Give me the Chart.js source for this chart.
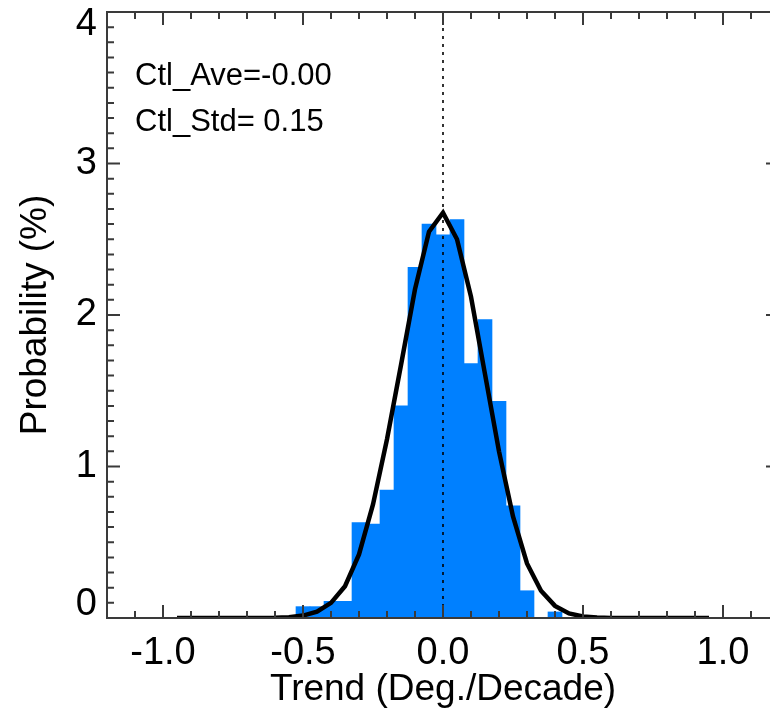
<!DOCTYPE html>
<html><head><meta charset="utf-8">
<script src="https://cdn.jsdelivr.net/npm/chart.js@4/dist/chart.umd.min.js"></script>
<style>
html,body{margin:0;padding:0;overflow:hidden;background:#fff;width:770px;height:718px}
#wrap{position:absolute;left:0;top:0;width:800px;height:718px}
</style>
</head><body><div id="wrap"><canvas id="c" width="800" height="718"></canvas></div>
<script>
// Histogram bins (bin centres, Deg./Decade) and probability (%)
const binCenters = [-0.50,-0.45,-0.40,-0.35,-0.30,-0.25,-0.20,-0.15,-0.10,-0.05,0.00,0.05,0.10,0.15,0.20,0.25,0.30,0.35,0.40];
const binProb    = [0.075,0.075,0.11,0.11,0.63,0.62,0.845,1.40,2.315,2.60,2.53,2.63,1.68,1.97,1.43,0.74,0.18,0.0,0.04];
// Fitted curve
const curveX = [-0.95,-0.90,-0.85,-0.80,-0.75,-0.70,-0.65,-0.60,-0.55,-0.50,-0.45,-0.40,-0.35,-0.30,-0.25,-0.20,-0.15,-0.10,-0.05,0.00,
                 0.05,0.10,0.15,0.20,0.25,0.30,0.35,0.40,0.45,0.50,0.55,0.60,0.65,0.70,0.75,0.80,0.85,0.90,0.95];
const curveY = [0,0,0,0,0,0,0,0.001,0.005,0.016,0.042,0.10,0.21,0.42,0.75,1.18,1.67,2.17,2.55,2.675,
                 2.50,2.12,1.61,1.10,0.67,0.36,0.18,0.08,0.03,0.01,0.003,0,0,0,0,0,0,0,0];
// Axes
const xTickValues = [-1.0,-0.5,0.0,0.5,1.0];
const yTickValues = [0,1,2,3,4];
const xRange = [-1.2, 1.2];
const yRange = [0, 4];
const xTitle = 'Trend (Deg./Decade)';
const yTitle = 'Probability (%)';
const statLabels = ['Ctl_Ave=-0.00', 'Ctl_Std= 0.15'];

const FONT = "'Liberation Sans', Arial, Helvetica, sans-serif";
const AXIS_COLOR = '#3a3a3a';

const decor = {
  id: 'decor',
  beforeDatasetDraw(chart, args) {
    if (args.index !== 0) return;
    const {ctx, chartArea: a, scales: {x}} = chart;
    const px = x.getPixelForValue(0);
    ctx.save();
    ctx.strokeStyle = '#000';
    ctx.lineWidth = 1.6;
    ctx.setLineDash([3, 5]);
    ctx.beginPath();
    ctx.moveTo(px, a.top);
    ctx.lineTo(px, a.bottom);
    ctx.stroke();
    ctx.restore();
  },
  afterDraw(chart) {
    const {ctx, chartArea: a, scales: {x, y}} = chart;
    ctx.save();
    ctx.strokeStyle = AXIS_COLOR;
    ctx.lineWidth = 2;
    ctx.strokeRect(a.left, a.top, a.right - a.left, a.bottom - a.top);
    ctx.beginPath();
    // x ticks every 0.1, major at multiples of 0.5
    for (let k = -12; k <= 12; k++) {
      const v = k / 10;
      const px = x.getPixelForValue(v);
      const len = (k % 5 === 0) ? 13 : 7;
      ctx.moveTo(px, a.bottom); ctx.lineTo(px, a.bottom - len);
      ctx.moveTo(px, a.top); ctx.lineTo(px, a.top + len);
    }
    // y ticks every 0.1, major at integers
    for (let k = 0; k <= 40; k++) {
      const v = k / 10;
      const py = y.getPixelForValue(v);
      const len = (k % 10 === 0) ? 13 : 7;
      ctx.moveTo(a.left, py); ctx.lineTo(a.left + len, py);
      ctx.moveTo(a.right, py); ctx.lineTo(a.right - len, py);
    }
    ctx.stroke();
    // statistics text
    ctx.fillStyle = '#000';
    ctx.font = '31px ' + FONT;
    ctx.textAlign = 'left';
    ctx.textBaseline = 'middle';
    ctx.fillText(statLabels[0], a.left + 28, a.top + 64);
    ctx.fillText(statLabels[1], a.left + 28, a.top + 110);
    ctx.restore();
  }
};

new Chart(document.getElementById('c'), {
  data: {
    datasets: [
      {
        type: 'line',
        data: curveX.map((v, i) => ({x: v, y: curveY[i]})),
        borderColor: '#000',
        borderWidth: 4.5,
        pointRadius: 0,
        tension: 0,
        fill: false,
        order: 0
      },
      {
        type: 'bar',
        data: binCenters.map((v, i) => ({x: v, y: binProb[i]})),
        backgroundColor: 'rgb(0,128,255)',
        borderWidth: 0,
        barPercentage: 1,
        categoryPercentage: 1,
        order: 1
      }
    ]
  },
  options: {
    responsive: false,
    animation: false,
    events: [],
    layout: {padding: {top: 12, right: 21, left: 0, bottom: 0}},
    plugins: {legend: {display: false}, tooltip: {enabled: false}},
    scales: {
      x: {
        type: 'linear',
        offset: false,
        min: xRange[0], max: xRange[1],
        afterBuildTicks: s => { s.ticks = xTickValues.map(v => ({value: v})); },
        afterFit: s => { s.height = 100; s.paddingLeft = 0; s.paddingRight = 0; },
        grid: {display: false, drawTicks: false, offset: false},
        border: {display: false},
        ticks: {
          color: '#000', padding: 13,
          font: {family: FONT, size: 38},
          maxRotation: 0, autoSkip: false,
          callback: v => v.toFixed(1)
        },
        title: {display: true, text: xTitle, color: '#000',
                font: {family: FONT, size: 37}, padding: {top: 0, bottom: 6}}
      },
      y: {
        type: 'linear',
        offset: false,
        min: yRange[0], max: yRange[1],
        afterBuildTicks: s => { s.ticks = yTickValues.map(v => ({value: v})); },
        afterFit: s => { s.width = 107; s.paddingTop = 0; s.paddingBottom = 0; },
        grid: {display: false, drawTicks: false},
        border: {display: false},
        ticks: {
          color: '#000', padding: 10,
          font: {family: FONT, size: 38, lineHeight: '26px'},
          autoSkip: false,
          callback: (v) => {
            const t = String(v);
            if (v === yRange[0]) return [t, ''];
            if (v === yRange[1]) return ['', t];
            return t;
          }
        },
        title: {display: true, text: yTitle, color: '#000',
                font: {family: FONT, size: 37}, padding: {top: 14, bottom: 0}}
      }
    }
  },
  plugins: [decor]
});
</script>
</body></html>
